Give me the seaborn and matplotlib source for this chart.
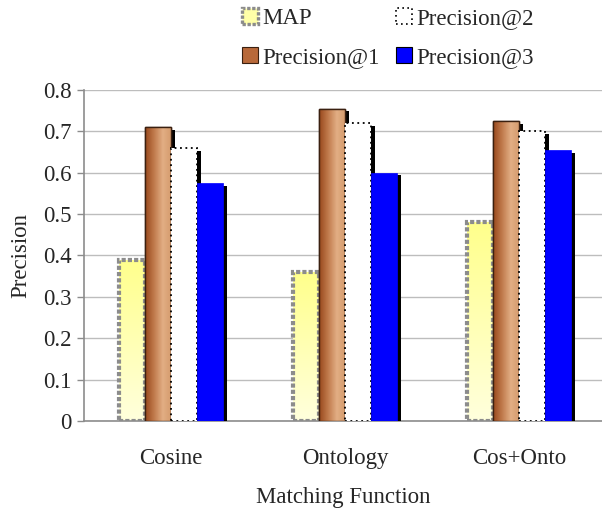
import numpy as np
import pandas as pd
import matplotlib
matplotlib.use("Agg")
import matplotlib.pyplot as plt
import matplotlib.patheffects as pe
from matplotlib.patches import Patch
from matplotlib.ticker import FuncFormatter
import seaborn as sns

# Retrieval precision per matching function
categories = ["Cosine", "Ontology", "Cos+Onto"]
metrics = ["MAP", "Precision@1", "Precision@2", "Precision@3"]
map_vals = [0.39, 0.36, 0.48]
p1_vals = [0.71, 0.755, 0.725]
p2_vals = [0.66, 0.72, 0.70]
p3_vals = [0.575, 0.60, 0.655]

df = pd.DataFrame({
    "Matching Function": categories * 4,
    "Metric": [m for m in metrics for _ in categories],
    "Precision": map_vals + p1_vals + p2_vals + p3_vals,
})

sns.set_style("white")
plt.rcParams["font.family"] = ["Liberation Serif", "DejaVu Serif"]
FS = 16.5

fig = plt.figure(figsize=(6.02, 5.08), dpi=100)
ax = fig.add_axes([0.1395, 0.1713, 1 - 0.1395, 0.6516])

palette = {"MAP": "#ffffa8", "Precision@1": "#c47a48",
           "Precision@2": "#ffffff", "Precision@3": "#0000ff"}
sns.barplot(data=df, x="Matching Function", y="Precision", hue="Metric",
            hue_order=metrics, palette=palette, width=0.6, ax=ax,
            legend=False, saturation=1, errorbar=None)

shadow = [pe.SimplePatchShadow(offset=(2.6, -2.0), shadow_rgbFace="black",
                               alpha=1.0), pe.Normal()]

# vertical pale-yellow gradient and horizontal brown gradient
yellow_grad = np.linspace(0, 1, 64).reshape(-1, 1)
ycols = matplotlib.colors.LinearSegmentedColormap.from_list(
    "yl", ["#ffff8c", "#ffffdc"])
brown_grad = np.linspace(0, 1, 64).reshape(1, -1)
bcols = matplotlib.colors.LinearSegmentedColormap.from_list(
    "br", ["#98481c", "#c07a4c", "#e2ae84", "#d49a6c"])

MAP_EDGE = dict(edgecolor="#8c8c8c", linewidth=3.0, linestyle=(0, (1, 0.5)))

for i, cont in enumerate(ax.containers):
    for bar in cont:
        bar.set_zorder(2 + i)
        x0, y0 = bar.get_x(), bar.get_y()
        w, h = bar.get_width(), bar.get_height()
        if i == 0:
            bar.set_edgecolor("none")
            im = ax.imshow(yellow_grad, cmap=ycols, aspect="auto",
                           extent=(x0, x0 + w, y0, y0 + h), origin="upper",
                           zorder=2.5, interpolation="bilinear")
            im.set_clip_path(bar)
            ax.add_patch(plt.Rectangle((x0, y0), w, h, fill=False,
                                       zorder=2.6, **MAP_EDGE))
        elif i == 1:
            bar.set_edgecolor("#3a2010")
            bar.set_linewidth(1.0)
            bar.set_path_effects(shadow)
            im = ax.imshow(brown_grad, cmap=bcols, aspect="auto",
                           extent=(x0, x0 + w, y0, y0 + h),
                           zorder=3.5, interpolation="bilinear")
            im.set_clip_path(bar)
            ax.add_patch(plt.Rectangle((x0, y0), w, h, fill=False,
                                       edgecolor="#3a2010", linewidth=1.0,
                                       zorder=3.6))
        elif i == 2:
            bar.set_edgecolor("black")
            bar.set_linewidth(1.3)
            bar.set_linestyle((0, (1, 2)))
            bar.set_path_effects(shadow)
        else:
            bar.set_edgecolor("#0000ff")
            bar.set_linewidth(0.5)
            bar.set_path_effects(shadow)

ax.set_xlim(-0.5, -0.5 + (602 - 84) / 174)
ax.set_ylim(0, 0.8)
ax.set_yticks(np.arange(0, 0.81, 0.1))
ax.yaxis.set_major_formatter(FuncFormatter(lambda v, _: "0" if abs(v) < 1e-9 else f"{v:.1f}"))
ax.yaxis.grid(True, color="#bdbdbd", linewidth=1.0)
ax.set_axisbelow(True)

for side in ("top", "right"):
    ax.spines[side].set_visible(False)
for side in ("left", "bottom"):
    ax.spines[side].set_color("#8c8c8c")
    ax.spines[side].set_linewidth(1.2)

ax.tick_params(axis="y", left=True, length=5, width=1, color="#8c8c8c",
               labelsize=FS, pad=4)
ax.tick_params(axis="x", bottom=False, labelsize=FS, pad=16)
ax.set_xlabel("Matching Function", fontsize=FS, labelpad=13)
ax.set_ylabel("Precision", fontsize=FS, labelpad=8)

handles = [
    Patch(facecolor="#ffffa8", edgecolor="#8c8c8c", linewidth=2.4,
          linestyle=(0, (1, 0.5)), label="MAP"),
    Patch(facecolor="#b8693a", edgecolor="#3a2010", linewidth=0.8,
          label="Precision@1"),
    Patch(facecolor="white", edgecolor="black", linewidth=1.2,
          linestyle=(0, (1, 2)), label="Precision@2"),
    Patch(facecolor="#0000ff", edgecolor="black", linewidth=0.8,
          label="Precision@3"),
]
fig.legend(handles=handles, ncol=2, loc="center", frameon=False,
           bbox_to_anchor=(388 / 602, 1 - 38 / 508), fontsize=FS,
           handlelength=0.7, handleheight=0.7, handletextpad=0.2,
           columnspacing=0.7, labelspacing=0.75)

fig.savefig("out.png", dpi=100)
